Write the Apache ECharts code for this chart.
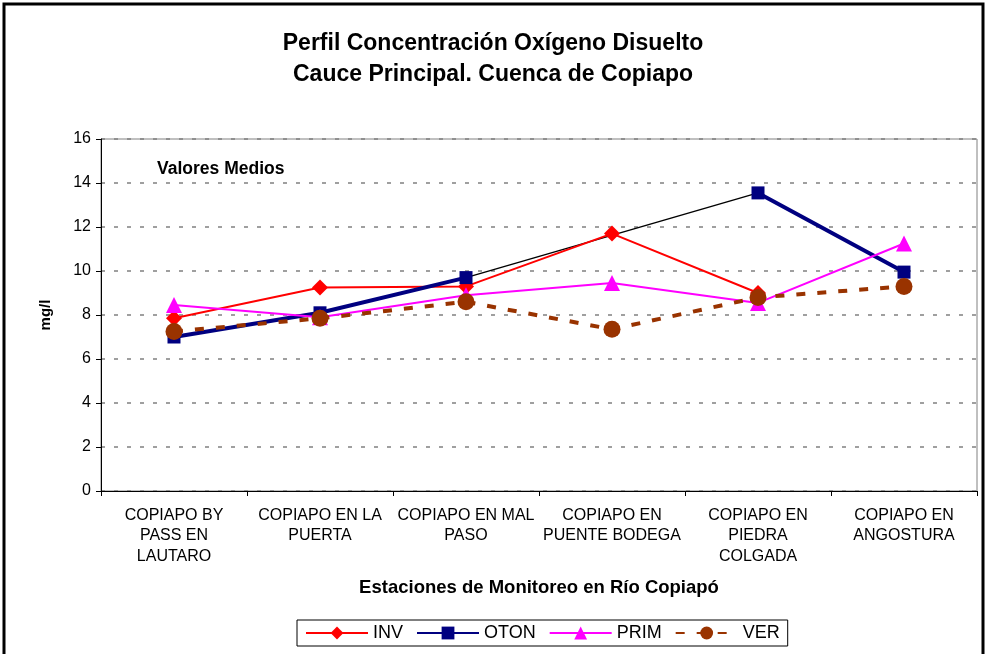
<!doctype html>
<html>
<head>
<meta charset="utf-8">
<title>Perfil Concentración Oxígeno Disuelto</title>
<script src="https://cdn.jsdelivr.net/npm/echarts@6/dist/echarts.min.js"></script>
<style>
  html, body { margin: 0; padding: 0; background: #fff; }
  #main { width: 986px; height: 654px; }
</style>
</head>
<body>
<div id="main"></div>
<script>
// estaciones
var estaciones = [
  'COPIAPO BY\nPASS EN\nLAUTARO',
  'COPIAPO EN LA\nPUERTA',
  'COPIAPO EN MAL\nPASO',
  'COPIAPO EN\nPUENTE BODEGA',
  'COPIAPO EN\nPIEDRA\nCOLGADA',
  'COPIAPO EN\nANGOSTURA'
];
// valores medios mg/l por temporada
var inv  = [7.85, 9.25, 9.3, 11.7, 9.0, null];
var oton = [7.0, 8.1, 9.7, null, 13.55, 9.95];
var prim = [8.45, 7.9, 8.9, 9.45, 8.55, 11.25];
var ver  = [7.25, 7.85, 8.6, 7.35, 8.8, 9.3];
// tramo OTON sin dato intermedio (linea delgada negra en el original)
var otonTramo = [null, null, 9.7, null, 13.55, null];

var fuente = '"Liberation Sans", Arial, sans-serif';

var myChart = echarts.init(document.getElementById('main'));

var option = {
  backgroundColor: '#fff',
  animation: false,
  textStyle: { fontFamily: fuente, color: '#000' },
  title: {
    text: 'Perfil Concentración Oxígeno Disuelto\nCauce Principal. Cuenca de Copiapo',
    left: 'center',
    top: 23,
    textStyle: { fontSize: 23, fontWeight: 'bold', lineHeight: 31, color: '#000', fontFamily: fuente }
  },
  graphic: [
    {
      type: 'rect',
      shape: { x: 4, y: 4, width: 979, height: 670 },
      style: { fill: null, stroke: '#000', lineWidth: 3 },
      silent: true
    },
    {
      type: 'text',
      left: 157,
      top: 160,
      style: { text: 'Valores Medios', font: 'bold 17.5px ' + fuente, fill: '#000' }
    }
  ],
  legend: {
    data: ['INV', 'OTON', 'PRIM', 'VER'],
    left: 297,
    top: 620,
    width: 500,
    itemWidth: 62,
    itemHeight: 16,
    itemGap: 13,
    padding: [4, 8, 4, 8],
    borderColor: '#000',
    borderWidth: 1,
    textStyle: { fontSize: 18, color: '#000', fontFamily: fuente }
  },
  grid: {
    left: 101,
    right: 9,
    top: 139,
    bottom: 163,
    show: true,
    borderColor: '#808080',
    borderWidth: 1
  },
  xAxis: {
    type: 'category',
    data: estaciones,
    boundaryGap: true,
    name: 'Estaciones de Monitoreo en Río Copiapó',
    nameLocation: 'middle',
    nameGap: 87,
    nameTextStyle: { fontSize: 18.5, fontWeight: 'bold', color: '#000' },
    axisLine: { lineStyle: { color: '#000', width: 1 } },
    axisTick: { show: true, alignWithLabel: false, length: 5, lineStyle: { color: '#000' } },
    axisLabel: { fontSize: 16, lineHeight: 20.5, color: '#000', margin: 14, interval: 0 },
    splitLine: { show: false }
  },
  yAxis: {
    type: 'value',
    min: 0,
    max: 16,
    interval: 2,
    name: 'mg/l',
    nameLocation: 'middle',
    nameGap: 48,
    nameRotate: 90,
    nameTextStyle: { fontSize: 15, fontWeight: 'bold', color: '#000' },
    axisLine: { show: true, lineStyle: { color: '#000', width: 1 } },
    axisTick: { show: true, length: 5, lineStyle: { color: '#000' } },
    axisLabel: { fontSize: 16, color: '#000', margin: 10 },
    splitLine: { show: true, lineStyle: { color: '#808080', type: [4, 9], width: 1.5 } }
  },
  series: [
    {
      name: 'INV',
      type: 'line',
      data: inv,
      symbol: 'diamond',
      symbolSize: 16,
      color: '#ff0000',
      lineStyle: { color: '#ff0000', width: 2 },
      itemStyle: { color: '#ff0000' },
      z: 3
    },
    {
      name: 'tramo',
      type: 'line',
      data: otonTramo,
      connectNulls: true,
      symbol: 'none',
      lineStyle: { color: '#000', width: 1.5 },
      silent: true,
      z: 2
    },
    {
      name: 'OTON',
      type: 'line',
      data: oton,
      symbol: 'rect',
      symbolSize: 13,
      color: '#000080',
      lineStyle: { color: '#000080', width: 4 },
      itemStyle: { color: '#000080' },
      z: 4
    },
    {
      name: 'PRIM',
      type: 'line',
      data: prim,
      symbol: 'triangle',
      symbolSize: 16,
      color: '#ff00ff',
      lineStyle: { color: '#ff00ff', width: 2 },
      itemStyle: { color: '#ff00ff' },
      z: 5
    },
    {
      name: 'VER',
      type: 'line',
      data: ver,
      symbol: 'circle',
      symbolSize: 17,
      color: '#993300',
      lineStyle: { color: '#993300', width: 4, type: [9, 12] },
      itemStyle: { color: '#993300' },
      z: 6
    }
  ]
};

myChart.setOption(option);
</script>
</body>
</html>
